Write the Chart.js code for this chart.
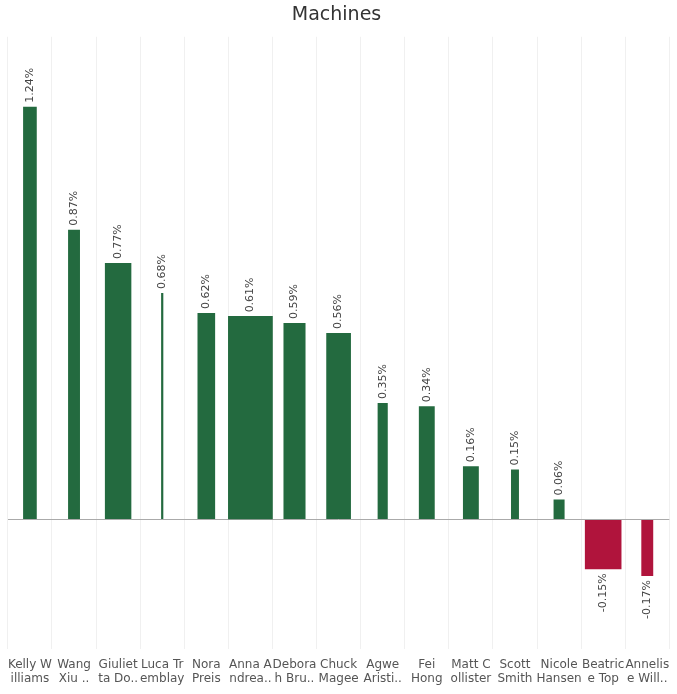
<!DOCTYPE html>
<html><head><meta charset="utf-8">
<script src="https://cdn.jsdelivr.net/npm/chart.js@4/dist/chart.umd.min.js"></script>
<style>html,body{margin:0;background:#fff}#w{width:677px;height:694px}</style>
</head><body><div id="w"><canvas id="c"></canvas></div>
<script>
const names = [['Kelly W','illiams'],['Wang','Xiu ..'],['Giuliet','ta Do..'],['Luca Tr','emblay'],['Nora','Preis'],['Anna A','ndrea..'],['Debora','h Bru..'],['Chuck','Magee'],['Agwe','Aristi..'],['Fei','Hong'],['Matt C','ollister'],['Scott','Smith'],['Nicole','Hansen'],['Beatric','e Top'],['Annelis','e Will..']];
const values = [1.24, 0.87, 0.77, 0.68, 0.62, 0.61, 0.59, 0.56, 0.35, 0.34, 0.16, 0.15, 0.06, -0.15, -0.17];
const widths = [0.31, 0.27, 0.6, 0.05, 0.4, 1.0, 0.5, 0.56, 0.23, 0.36, 0.36, 0.18, 0.25, 0.83, 0.27];

const datasets = values.map((v, i) => ({
  data: values.map((_, j) => j === i ? v : null),
  backgroundColor: v >= 0 ? '#236a3f' : '#b0143c',
  barPercentage: widths[i],
  categoryPercentage: 1,
  grouped: false
}));

const labelPlugin = {
  id: 'lbl',
  afterDatasetsDraw(chart) {
    const ctx = chart.ctx;
    ctx.save();
    ctx.font = '11px "DejaVu Sans", sans-serif';
    ctx.fillStyle = '#444';
    ctx.textBaseline = 'middle';
    chart.data.datasets.forEach((ds, i) => {
      const el = chart.getDatasetMeta(i).data[i];
      const v = values[i];
      const txt = v.toFixed(2) + '%';
      ctx.save();
      ctx.translate(el.x, el.y + (v >= 0 ? -4 : 4));
      ctx.rotate(-Math.PI / 2);
      ctx.textAlign = v >= 0 ? 'left' : 'right';
      ctx.fillText(txt, 0, 0);
      ctx.restore();
    });
    ctx.restore();
  }
};

new Chart(document.getElementById('c'), {
  type: 'bar',
  data: { labels: names, datasets },
  options: {
    responsive: true, maintainAspectRatio: false, animation: false,
    layout: { padding: { left: 0, right: 4, top: 0, bottom: 0 } },
    plugins: {
      legend: { display: false }, tooltip: { enabled: false },
      title: { display: true, text: 'Machines', color: '#333', font: { size: 19, family: '"DejaVu Sans", sans-serif', weight: 'normal' }, padding: { top: 4, bottom: 10 } }
    },
    scales: {
      x: {
        grid: { display: true, offset: true, color: '#f0f0f0', drawTicks: false },
        border: { display: false },
        ticks: { color: '#555', font: { size: 12, family: '"DejaVu Sans", sans-serif' }, maxRotation: 0, autoSkip: false, padding: 8 }
      },
      y: {
        min: -0.39, max: 1.45, display: true,
        ticks: { display: false },
        border: { display: false },
        grid: {
          drawTicks: false,
          color: ctx => ctx.tick.value === 0 ? '#aaa' : 'transparent',
          lineWidth: 1
        },
        afterBuildTicks: s => { s.ticks = [{ value: 0 }]; }
      }
    }
  },
  plugins: [labelPlugin]
});
</script></body></html>
